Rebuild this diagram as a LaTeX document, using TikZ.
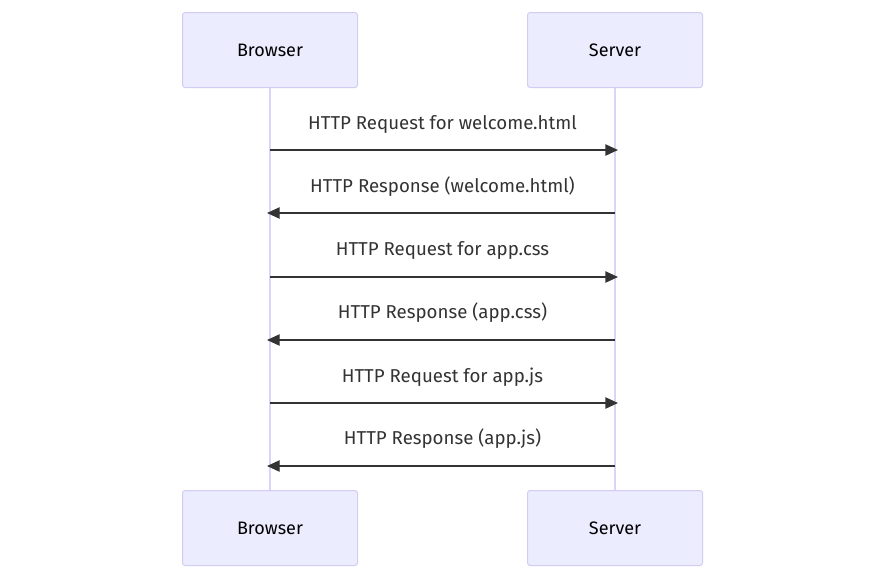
\documentclass[tikz,border=0pt]{standalone}
\usepackage{fontspec}
\setmainfont{Fira Sans}
\usetikzlibrary{arrows.meta}
\definecolor{actorfill}{HTML}{ECECFF}
\definecolor{actorline}{HTML}{D3CCF2}
\definecolor{lifeline}{HTML}{DCD4F6}
\definecolor{msgline}{HTML}{333333}
\tikzset{
	actor/.style={draw=actorline, fill=actorfill, rounded corners=2pt, line width=0.75pt,
		minimum width=131.25pt, minimum height=56.25pt, inner sep=0pt, font=\fontsize{13.5}{16}\selectfont},
	msg/.style={draw=msgline, line width=1pt, -{Triangle[length=9.5pt, width=8.5pt]}},
	msglabel/.style={font=\fontsize{14}{16}\selectfont, text=msgline}
}
\begin{document}
\begin{tikzpicture}[x=0.75pt, y=-0.75pt]
	\useasboundingbox (0,0) rectangle (885,579);

	% lifelines
	\draw[lifeline, line width=1.5pt] (270,87) -- (270,490);
	\draw[lifeline, line width=1.5pt] (615,87) -- (615,490);

	% participants
	\node[actor] (browsertop) at (270,50) {Browser};
	\node[actor] (servertop) at (615,50) {Server};
	\node[actor] (browserbot) at (270,528) {Browser};
	\node[actor] (serverbot) at (615,528) {Server};

	% message anchors on lifelines
	\coordinate (b1) at (270,150); \coordinate (s1) at (618,150);
	\coordinate (b2) at (267,213); \coordinate (s2) at (615,213);
	\coordinate (b3) at (270,277); \coordinate (s3) at (618,277);
	\coordinate (b4) at (267,340); \coordinate (s4) at (615,340);
	\coordinate (b5) at (270,403); \coordinate (s5) at (618,403);
	\coordinate (b6) at (267,466); \coordinate (s6) at (615,466);

	% messages
	\draw[msg] (b1) -- (s1);
	\draw[msg] (s2) -- (b2);
	\draw[msg] (b3) -- (s3);
	\draw[msg] (s4) -- (b4);
	\draw[msg] (b5) -- (s5);
	\draw[msg] (s6) -- (b6);

	\node[msglabel] (m1) at (442.5,124) {HTTP Request for welcome.html};
	\node[msglabel] (m2) at (442.5,187) {HTTP Response (welcome.html)};
	\node[msglabel] (m3) at (442.5,250) {HTTP Request for app.css};
	\node[msglabel] (m4) at (442.5,313) {HTTP Response (app.css)};
	\node[msglabel] (m5) at (442.5,377) {HTTP Request for app.js};
	\node[msglabel] (m6) at (442.5,439) {HTTP Response (app.js)};

\end{tikzpicture}
\end{document}
